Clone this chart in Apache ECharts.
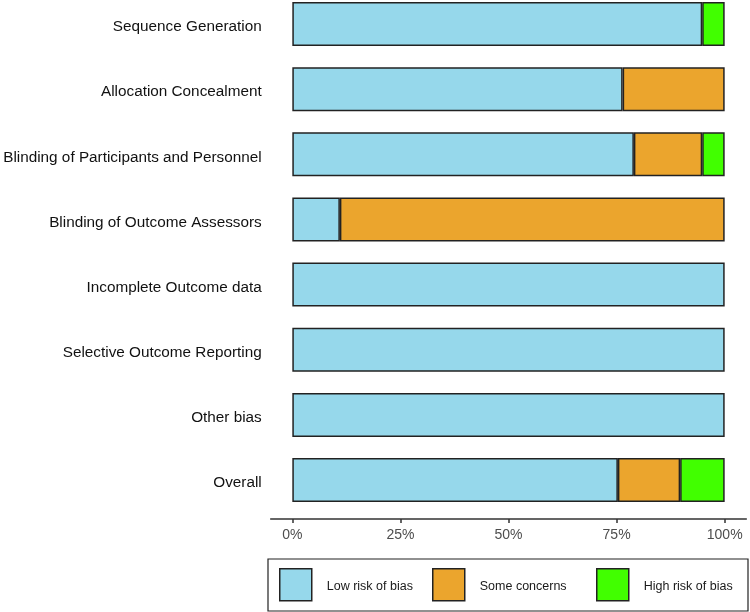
<!DOCTYPE html>
<html>
<head>
<meta charset="utf-8">
<script src="https://cdn.jsdelivr.net/npm/echarts@6/dist/echarts.min.js"></script>
<style>
  html, body { margin: 0; padding: 0; background: #fff; overflow: hidden; }
  /* shifted up so the first band starts slightly above the page edge */
  #chart { width: 750px; height: 621px; margin-top: -9px; }
</style>
</head>
<body>
<div id="chart"></div>
<script>
// domains, top to bottom
const categories = [
  'Sequence Generation',
  'Allocation Concealment',
  'Blinding of Participants and Personnel',
  'Blinding of Outcome Assessors',
  'Incomplete Outcome data',
  'Selective Outcome Reporting',
  'Other bias',
  'Overall'
];
// percentages (null = no segment)
const lowRisk = [94.8, 76.4, 79.0, 11.0, 100, 100, 100, 75.3];
const someConcerns = [null, 23.6, 15.8, 89.0, null, null, null, 14.4];
const highRisk = [5.2, null, 5.2, null, null, null, null, 10.3];
const tickValues = [0, 25, 50, 75, 100];

const seriesNames = ['Low risk of bias', 'Some concerns', 'High risk of bias'];
const colors = ['#96d8eb', '#eba52d', '#41ff00'];
const legendLeft = [279, 432, 596];

const chart = echarts.init(document.getElementById('chart'));

function barSeries(name, data, color) {
  return {
    name: name,
    type: 'bar',
    stack: 'rob',
    barWidth: 44,
    data: data,
    itemStyle: { color: color, borderColor: '#222', borderWidth: 1.5 },
    emphasis: { disabled: true }
  };
}

const option = {
  backgroundColor: '#fff',
  animation: false,
  textStyle: { fontFamily: 'Liberation Sans, Arial, sans-serif' },
  grid: {
    left: 270.7, right: 3.7, top: 0.4, bottom: 99.4,
    containLabel: false, outerBoundsMode: 'none'
  },
  xAxis: {
    type: 'value',
    min: -5,
    max: 105,
    offset: 6.5,
    splitLine: { show: false },
    axisLine: { show: true, lineStyle: { color: '#333', width: 1.5 } },
    axisTick: { show: true, length: 4, customValues: tickValues, lineStyle: { color: '#333', width: 1.5 } },
    axisLabel: {
      customValues: tickValues,
      formatter: '{value}%',
      color: '#4d4d4d',
      fontSize: 14,
      margin: 9
    }
  },
  yAxis: {
    type: 'category',
    data: categories,
    inverse: true,
    axisLine: { show: false },
    axisTick: { show: false },
    axisLabel: {
      margin: 9,
      formatter: v => '{t|' + v + '}',
      rich: { t: { color: '#111', fontSize: 15.3, padding: [6, 0, 0, 0] } }
    }
  },
  legend: seriesNames.map((n, i) => ({
    data: [n],
    left: legendLeft[i],
    top: 577,
    padding: 0,
    itemWidth: 32,
    itemHeight: 32,
    icon: 'rect',
    selectedMode: false,
    itemStyle: { borderColor: '#222', borderWidth: 1.5 },
    formatter: '{t|{name}}',
    textStyle: {
      padding: [0, 0, 0, 10],
      rich: { t: { fontSize: 12.5, color: '#1a1a1a', padding: [4, 0, 0, 0] } }
    }
  })),
  graphic: [{
    type: 'rect',
    shape: { x: 268, y: 568, width: 480, height: 52 },
    style: { fill: 'none', stroke: '#222', lineWidth: 1.2 }
  }],
  series: [
    barSeries(seriesNames[0], lowRisk, colors[0]),
    barSeries(seriesNames[1], someConcerns, colors[1]),
    barSeries(seriesNames[2], highRisk, colors[2])
  ]
};

chart.setOption(option);
</script>
</body>
</html>
